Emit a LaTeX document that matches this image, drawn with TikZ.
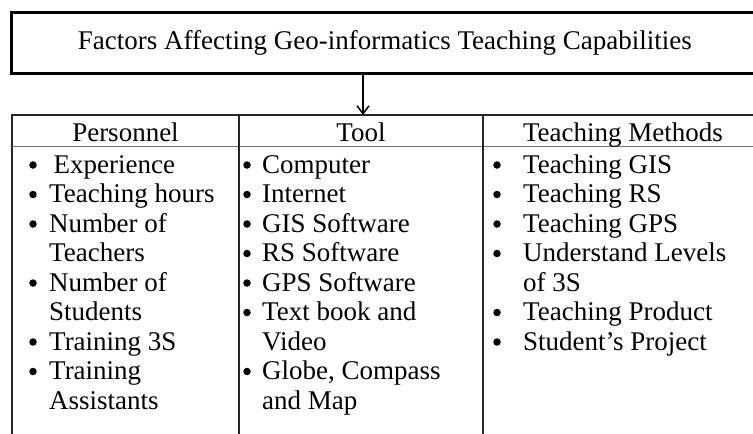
\documentclass[tikz,border=0pt]{standalone}
\usepackage{fontspec}
\setmainfont{Liberation Serif}
\usetikzlibrary{arrows.meta}
\begin{document}
\begin{tikzpicture}[x=1pt,y=-1pt,
  bodyfont/.style={font=\fontsize{27}{30}\selectfont},
  txt/.style={bodyfont, inner sep=0pt, anchor=base west},
  bul/.style={circle, fill=black, inner sep=0pt, minimum size=7.5pt},
  hd/.style={bodyfont, inner sep=0pt, anchor=base},
  tbl/.style={line width=1.3pt, draw=black!85},
  sep/.style={line width=1pt, draw=black!55},
  conn/.style={line width=1.4pt, -{Straight Barb[length=8pt,width=12pt,line width=1.5pt]}}
]
\useasboundingbox (0,0) rectangle (753,434);
\clip (0,0) rectangle (753,434);
% title box
\node[draw, line width=2.8pt, anchor=north west, minimum width=747pt, minimum height=61pt,
      inner sep=0pt, font=\fontsize{27}{30}\selectfont] (title) at (10,11)
      {Factors Affecting Geo-informatics Teaching Capabilities};
% table
\coordinate (tl) at (12,115);
\coordinate (atop) at (363,115);
\draw[tbl] (12,440) -- (tl) -- (775,115);
\draw[sep] (12,146) -- (775,146);
\draw[tbl] (239,115) -- (239,440);
\draw[tbl] (483,115) -- (483,440);
% connector
\draw[conn] (title.south -| atop) -- (atop);
% headers
\node[hd] (h1) at (125.5,141) {Personnel};
\node[hd] (h2) at (361,141) {Tool};
\node[hd] (h3) at (623,141) {Teaching Methods};
% column 1
\foreach \t/\k/\b in {\,Experience/0/1, Teaching hours/1/1, Number of/2/1, Teachers/3/0,
  Number of/4/1, Students/5/0, Training 3S/6/1, Training/7/1, Assistants/8/0}{
  \node[txt] (ca\k) at (49,173+29.5*\k) {\t};
  \ifnum\b=1 \node[bul] (ba\k) at (33,165+29.5*\k) {}; \fi
}
% column 2
\foreach \t/\k/\b in {Computer/0/1, Internet/1/1, GIS Software/2/1, RS Software/3/1,
  GPS Software/4/1, Text book and/5/1, Video/6/0, {Globe, Compass}/7/1, and Map/8/0}{
  \node[txt] (cb\k) at (262,173+29.5*\k) {\t};
  \ifnum\b=1 \node[bul] (bb\k) at (247,165+29.5*\k) {}; \fi
}
% column 3
\foreach \t/\k/\b in {Teaching GIS/0/1, Teaching RS/1/1, Teaching GPS/2/1, Understand Levels/3/1,
  of 3S/4/0, Teaching Product/5/1, Student’s Project/6/1}{
  \node[txt] (cc\k) at (523,173+29.5*\k) {\t};
  \ifnum\b=1 \node[bul] (bc\k) at (497,165+29.5*\k) {}; \fi
}
\end{tikzpicture}
\end{document}
